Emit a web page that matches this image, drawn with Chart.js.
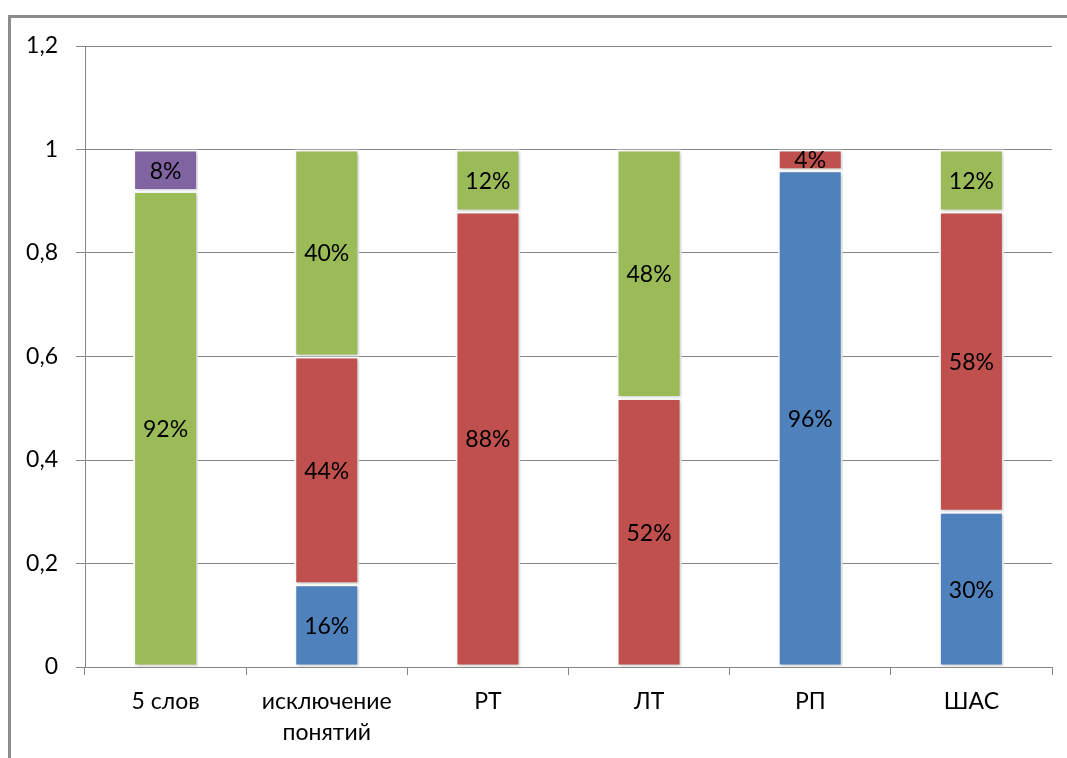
<!DOCTYPE html>
<html>
<head>
<meta charset="utf-8">
<script src="https://cdn.jsdelivr.net/npm/chart.js@4/dist/chart.umd.min.js"></script>
<style>
  html, body { margin: 0; padding: 0; background: #ffffff; }
  canvas { display: block; }
</style>
</head>
<body>
<canvas id="chart" width="1067" height="758"></canvas>
<script>
// Categories (tests) and share of results per group
const categories = ['5 слов', ['исключение', 'понятий'], 'РТ', 'ЛТ', 'РП', 'ШАС'];
const seriesBlue   = [null, 0.16, null, null, 0.96, 0.30];
const seriesRed    = [null, 0.44, 0.88, 0.52, 0.04, 0.58];
const seriesGreen  = [0.92, 0.40, 0.12, 0.48, null, 0.12];
const seriesPurple = [0.08, null, null, null, null, null];
const yTicks = [0, 0.2, 0.4, 0.6, 0.8, 1, 1.2];

const FONT = 'Lato, "Open Sans", sans-serif';
const FONT_SIZE = 23;

// Outer frame around the chart
const framePlugin = {
  id: 'frame',
  beforeDraw(chart) {
    const ctx = chart.ctx;
    ctx.save();
    ctx.fillStyle = '#ffffff';
    ctx.fillRect(0, 0, chart.width, chart.height);
    ctx.strokeStyle = '#8c8c8c';
    ctx.lineWidth = 3;
    ctx.beginPath();
    ctx.moveTo(9.5, chart.height + 5);
    ctx.lineTo(9.5, 16.5);
    ctx.lineTo(chart.width + 5, 16.5);
    ctx.stroke();
    ctx.restore();
  }
};

// Soft shadow behind the bar segments
const shadowPlugin = {
  id: 'barShadow',
  beforeDatasetsDraw(chart) {
    const ctx = chart.ctx;
    ctx.save();
    ctx.shadowColor = 'rgba(0,0,0,0.22)';
    ctx.shadowBlur = 4;
    ctx.shadowOffsetX = 1.5;
    ctx.shadowOffsetY = 1.5;
  },
  afterDatasetsDraw(chart) {
    chart.ctx.restore();
  }
};

// Percentage labels in the middle of each segment
const valueLabels = {
  id: 'valueLabels',
  afterDraw(chart) {
    const ctx = chart.ctx;
    ctx.save();
    ctx.font = FONT_SIZE + 'px ' + FONT;
    ctx.fillStyle = '#000000';
    ctx.textAlign = 'center';
    ctx.textBaseline = 'middle';
    chart.data.datasets.forEach((ds, di) => {
      const meta = chart.getDatasetMeta(di);
      meta.data.forEach((bar, i) => {
        const v = ds.data[i];
        if (v === null || v === undefined) return;
        const yMid = (bar.y + bar.base) / 2;
        ctx.fillText(Math.round(v * 100) + '%', bar.x, yMid + 1);
      });
    });
    ctx.restore();
  }
};

const makeSet = (label, data, color) => ({
  label, data,
  backgroundColor: color,
  borderColor: '#ffffff',
  borderWidth: 2,
  borderSkipped: false,
  categoryPercentage: 1,
  barPercentage: 0.403
});

new Chart(document.getElementById('chart'), {
  type: 'bar',
  data: {
    labels: categories,
    datasets: [
      makeSet('blue', seriesBlue, '#4F81BD'),
      makeSet('red', seriesRed, '#C0504D'),
      makeSet('green', seriesGreen, '#9BBB59'),
      makeSet('purple', seriesPurple, '#8064A2')
    ]
  },
  options: {
    responsive: false,
    devicePixelRatio: 1,
    animation: false,
    layout: { padding: { top: 46, right: 15, left: 0, bottom: 0 } },
    plugins: {
      legend: { display: false },
      tooltip: { enabled: false }
    },
    scales: {
      x: {
        stacked: true,
        afterFit(scale) { scale.height = 91; },
        grid: {
          display: true,
          offset: true,
          drawOnChartArea: false,
          drawTicks: true,
          tickLength: 8,
          color: '#868686',
          lineWidth: 1
        },
        border: { display: true, color: '#868686', width: 1 },
        ticks: {
          color: '#000000',
          font: { family: FONT, size: FONT_SIZE, lineHeight: 1.36 },
          padding: 11,
          maxRotation: 0,
          autoSkip: false
        }
      },
      y: {
        stacked: true,
        min: 0,
        max: 1.2,
        afterFit(scale) { scale.width = 85; },
        afterBuildTicks(scale) {
          scale.ticks = yTicks.map(v => ({ value: v }));
        },
        grid: {
          color: '#868686',
          lineWidth: 1,
          drawTicks: true,
          tickLength: 9
        },
        border: { display: true, color: '#868686', width: 1 },
        ticks: {
          color: '#000000',
          font: { family: FONT, size: FONT_SIZE },
          padding: 18,
          callback: (v) => String(Math.round(v * 10) / 10).replace('.', ',')
        }
      }
    }
  },
  plugins: [framePlugin, shadowPlugin, valueLabels]
});
</script>
</body>
</html>
